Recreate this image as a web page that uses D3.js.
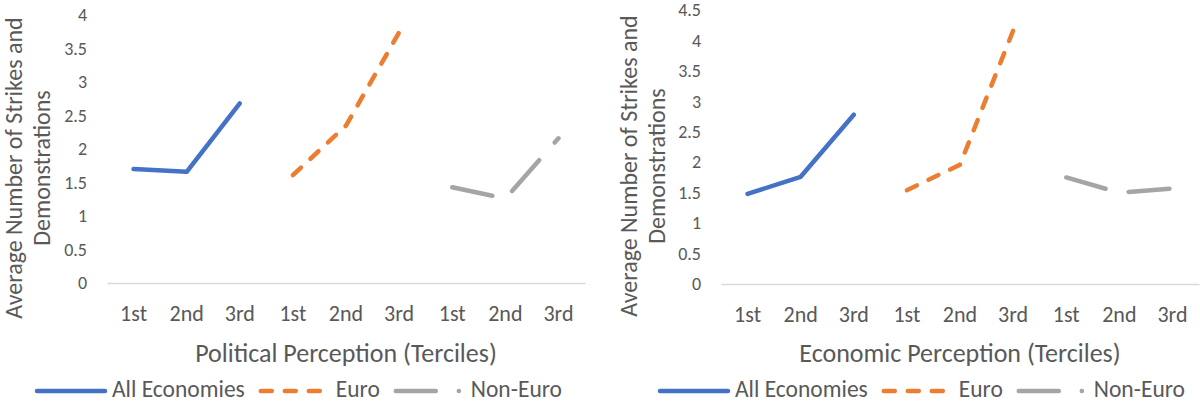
<!DOCTYPE html>
<meta charset="utf-8">
<style>
  body { margin: 0; background: #fff; }
  text { font-family: Carlito, Calibri, Lato, sans-serif; fill: #595959; }
  .domain { stroke: #d9d9d9; stroke-width: 1.5; }
</style>
<svg width="1200" height="403"></svg>
<script src="https://cdn.jsdelivr.net/npm/d3@7"></script>
<script>

var terciles = ["1st", "2nd", "3rd"];
var groups = ["All Economies", "Euro", "Non-Euro"];
var colors = ["#4472c4", "#ed7d31", "#a5a5a5"];
var dashes = [null, "11,13", "41,23.5"];
var legendDashes = [null, "11,13", "40,23,0.1,23"];

// values, one array per series
var politicalAll = [1.70, 1.66, 2.68];
var politicalEuro = [1.61, 2.35, 3.74];
var politicalNonEuro = [1.43, 1.26, 2.16];

var economicAll = [1.48, 1.76, 2.78];
var economicEuro = [1.54, 1.96, 4.16];
var economicNonEuro = [1.75, 1.50, 1.57];

var politicalTicks = [0, 0.5, 1, 1.5, 2, 2.5, 3, 3.5, 4];
var economicTicks = [0, 0.5, 1, 1.5, 2, 2.5, 3, 3.5, 4, 4.5];

var svg = d3.select("svg");

function drawChart(opt) {
  var g = svg.append("g");

  // 9 slots: 3 terciles for each of the 3 groups
  var slots = [];
  groups.forEach(function(s, i) {
    terciles.forEach(function(t) { slots.push(i + "|" + t); });
  });

  var x = d3.scaleBand().domain(slots).range([opt.left, opt.right]);
  var y = d3.scaleLinear().domain([0, d3.max(opt.ticks)]).range([opt.bottom, opt.top]);

  // value axis: labels only
  var ya = g.append("g")
      .attr("transform", "translate(" + opt.left + ",0)")
      .call(d3.axisLeft(y).tickValues(opt.ticks).tickSize(0).tickPadding(20)
        .tickFormat(function(d) { return d; }));
  ya.select(".domain").remove();
  ya.selectAll("text").style("font-size", "18px");

  var xa = g.append("g")
      .attr("transform", "translate(0," + opt.bottom + ")")
      .call(d3.axisBottom(x).tickSize(0).tickPadding(22).tickSizeOuter(0)
        .tickFormat(function(d) { return d.split("|")[1]; }));
  xa.selectAll("text").style("font-size", "22px");

  var line = d3.line()
      .x(function(d) { return x(d.slot) + x.bandwidth() / 2; })
      .y(function(d) { return y(d.v); });

  opt.series.forEach(function(vals, i) {
    var pts = vals.map(function(v, j) { return {slot: i + "|" + terciles[j], v: v}; });
    g.append("path")
        .datum(pts)
        .attr("fill", "none")
        .attr("stroke", colors[i])
        .attr("stroke-width", 4.5)
        .attr("stroke-linecap", "round")
        .attr("stroke-linejoin", "round")
        .attr("stroke-dasharray", dashes[i])
        .attr("d", line);
  });

  // axis titles
  g.append("text")
      .attr("x", (opt.left + opt.right) / 2)
      .attr("y", 362)
      .attr("text-anchor", "middle")
      .style("font-size", "26px")
      .text(opt.xTitle);

  var yt = g.append("text")
      .attr("transform", "translate(" + opt.yTitleX + "," + opt.yTitleY + ") rotate(-90)")
      .attr("text-anchor", "middle")
      .style("font-size", "24px");
  yt.append("tspan").attr("x", 0).attr("dy", 0).text("Average Number of Strikes and");
  yt.append("tspan").attr("x", 0).attr("dy", 28).text("Demonstrations");

  // legend
  var lx = opt.legendX, ly = 391;
  groups.forEach(function(name, i) {
    g.append("line")
        .attr("x1", lx + 2).attr("x2", lx + 70)
        .attr("y1", ly).attr("y2", ly)
        .attr("stroke", colors[i])
        .attr("stroke-width", 4.5)
        .attr("stroke-linecap", "round")
        .attr("stroke-dasharray", legendDashes[i]);
    var t = g.append("text")
        .attr("x", lx + 77)
        .attr("y", 397)
        .style("font-size", "23.5px")
        .text(name);
    lx = lx + 77 + t.node().getComputedTextLength() + 14;
  });
}

drawChart({
  left: 107, right: 585, top: 15, bottom: 283,
  ticks: politicalTicks,
  series: [politicalAll, politicalEuro, politicalNonEuro],
  xTitle: "Political Perception (Terciles)",
  yTitleX: 22, yTitleY: 168, legendX: 35
});

drawChart({
  left: 721, right: 1199, top: 10, bottom: 284,
  ticks: economicTicks,
  series: [economicAll, economicEuro, economicNonEuro],
  xTitle: "Economic Perception (Terciles)",
  yTitleX: 637, yTitleY: 166, legendX: 658
});

</script>
